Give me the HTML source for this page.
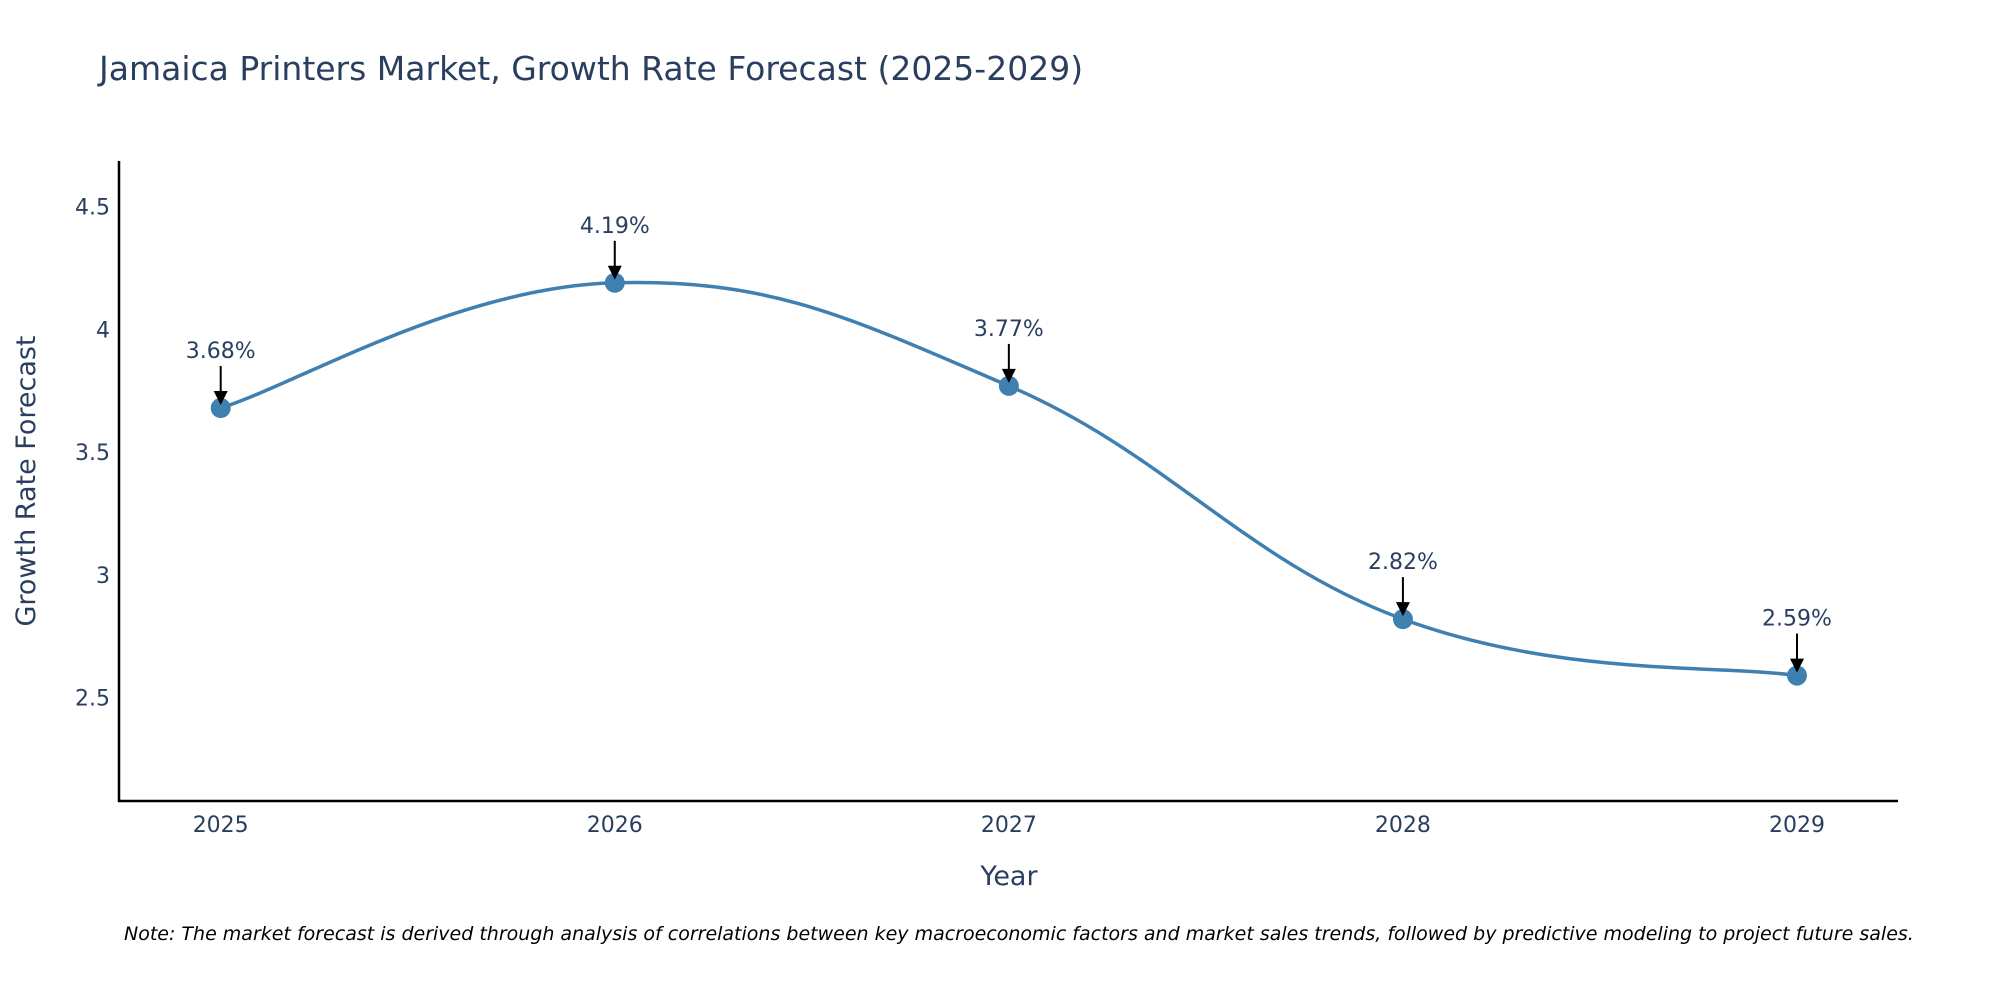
<!DOCTYPE html>
<html><head><meta charset="utf-8">
<style>
html,body{margin:0;padding:0;background:#fff;}
svg{display:block;font-family:"DejaVu Sans","Liberation Sans",sans-serif;}
</style></head>
<body>
<svg id="chart" width="2000" height="1000" viewBox="0 0 2000 1000" xmlns="http://www.w3.org/2000/svg">
<text x="99" y="80" font-size="33" fill="#2a3f5f">Jamaica Printers Market, Growth Rate Forecast (2025-2029)</text>
<g id="yticks"></g>
<g id="xticks"></g>
<line x1="119" y1="161" x2="119" y2="802" stroke="#000" stroke-width="2.5"/>
<line x1="118" y1="801" x2="1898" y2="801" stroke="#000" stroke-width="2.5"/>
<text transform="translate(35,481) rotate(-90)" text-anchor="middle" font-size="27" fill="#2a3f5f">Growth Rate Forecast</text>
<text x="1009" y="885" text-anchor="middle" font-size="27" fill="#2a3f5f">Year</text>
<path id="line" fill="none" stroke="#3f80b0" stroke-width="3.5"/>
<g id="marks"></g>
<g id="annots"></g>
<text x="124" y="940" font-size="19" font-style="italic" fill="#000">Note: The market forecast is derived through analysis of correlations between key macroeconomic factors and market sales trends, followed by predictive modeling to project future sales.</text>
</svg>
<script>
const years = [2025, 2026, 2027, 2028, 2029];
const values = [3.68, 4.19, 3.77, 2.82, 2.59];
const labels = ["3.68%", "4.19%", "3.77%", "2.82%", "2.59%"];
const yTicks = [2.5, 3, 3.5, 4, 4.5];
const yTickLabels = ["2.5", "3", "3.5", "4", "4.5"];

const NS = "http://www.w3.org/2000/svg";
const xS = v => 220.7 + (v - years[0]) * (1797 - 220.7) / (years[years.length-1] - years[0]);
const yS = v => 697.7 - (v - 2.5) * 245.5;
function mk(tag, attrs, parent) { const e = document.createElementNS(NS, tag); for (const k in attrs) e.setAttribute(k, attrs[k]); parent.appendChild(e); return e; }

const yt = document.getElementById('yticks');
yTicks.forEach((t, i) => {
  const e = mk('text', {x: 110, y: yS(t) + 8, 'text-anchor': 'end', 'font-size': 22, fill: '#2a3f5f'}, yt);
  
  
  e.textContent = yTickLabels[i];
});
const xt = document.getElementById('xticks');
years.forEach(y => {
  const e = mk('text', {x: xS(y), y: 832, 'text-anchor': 'middle', 'font-size': 22, fill: '#2a3f5f'}, xt);
  
  
  e.textContent = y;
});

const pts = years.map((y, i) => [xS(y), yS(values[i])]);
let d = `M${pts[0][0]},${pts[0][1]}`;
const s = 0.2;
for (let i = 0; i < pts.length - 1; i++) {
  const p0 = pts[Math.max(i-1,0)], p1 = pts[i], p2 = pts[i+1], p3 = pts[Math.min(i+2, pts.length-1)];
  const c1 = [p1[0] + (p2[0]-p0[0])*s, p1[1] + (p2[1]-p0[1])*s];
  const c2 = [p2[0] - (p3[0]-p1[0])*s, p2[1] - (p3[1]-p1[1])*s];
  d += ` C${c1[0]},${c1[1]} ${c2[0]},${c2[1]} ${p2[0]},${p2[1]}`;
}
document.getElementById('line').setAttribute('d', d);

const mg = document.getElementById('marks'), ag = document.getElementById('annots');
pts.forEach((p, i) => {
  const c = mk('circle', {cx: p[0], cy: p[1], r: 10, fill: '#3f80b0'}, mg);
  
  
  const l = mk('line', {x1: p[0], y1: p[1] - 42, x2: p[0], y2: p[1] - 14, stroke: '#000', 'stroke-width': 2}, ag);
  
  
  const h = mk('polygon', {points: `${p[0]-7},${p[1]-17} ${p[0]+7},${p[1]-17} ${p[0]},${p[1]-3}`, fill: '#000'}, ag);
  
  
  const t = mk('text', {x: p[0], y: p[1] - 50, 'text-anchor': 'middle', 'font-size': 22, fill: '#2a3f5f'}, ag);
  
  
  t.textContent = labels[i];
});
</script>
</body></html>
